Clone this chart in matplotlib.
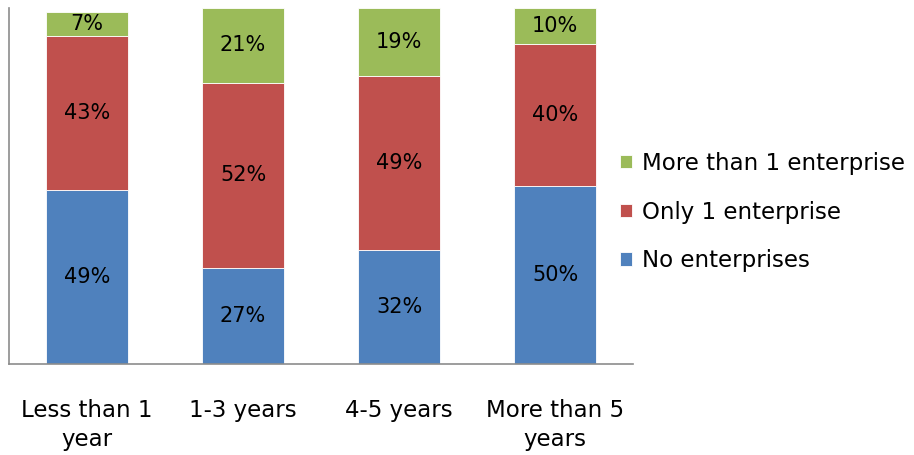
import numpy as np
import matplotlib
matplotlib.use("Agg")
import matplotlib.pyplot as plt

categories = ["Less than 1\nyear", "1-3 years", "4-5 years", "More than 5\nyears"]
series_names = ["No enterprises", "Only 1 enterprise", "More than 1 enterprise"]
no_ent = [49, 27, 32, 50]
one_ent = [43, 52, 49, 40]
more_ent = [7, 21, 19, 10]
colors = ["#4F81BD", "#C0504D", "#9BBB59"]

plt.rcParams['font.family'] = ['DejaVu Sans']

fig = plt.figure(figsize=(9.14, 4.55), dpi=100)
ax = fig.add_axes([9/914, 1 - 364/455, (633 - 9)/914, (364 - 8)/455])

x = np.arange(len(categories))
bottom = np.zeros(len(categories))
handles = []
for name, vals, col in zip(series_names, [no_ent, one_ent, more_ent], colors):
    bars = ax.bar(x, vals, width=0.52, bottom=bottom, color=col,
                  edgecolor="white", linewidth=0.6, label=name)
    handles.append(bars)
    for xi, b, v in zip(x, bottom, vals):
        ax.text(xi, b + v / 2, f"{v}%", ha="center", va="center",
                fontsize=15, color="black")
    bottom = bottom + np.array(vals)

ax.set_xlim(-0.5, 3.5)
ax.set_ylim(0, 100)
ax.set_yticks([])
ax.set_xticks(x)
ax.set_xticklabels(categories, fontsize=16.5, linespacing=1.35)
ax.tick_params(axis="x", length=0, pad=25)
for s in ["top", "right"]:
    ax.spines[s].set_visible(False)
for s in ["left", "bottom"]:
    ax.spines[s].set_color("#8C8C8C")
    ax.spines[s].set_linewidth(1.2)

fig.legend(handles[::-1], series_names[::-1], loc="center left",
           bbox_to_anchor=(620/914, 1 - 212/455), frameon=False,
           fontsize=16.5, handlelength=0.52, handleheight=0.52,
           handletextpad=0.45, labelspacing=1.12, borderpad=0, borderaxespad=0)

plt.savefig("out.png", dpi=100)
